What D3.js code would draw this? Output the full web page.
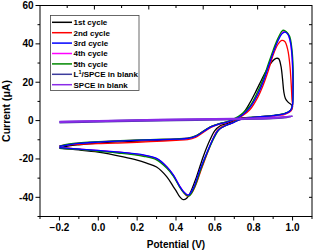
<!DOCTYPE html>
<html><head><meta charset="utf-8">
<script src="https://cdn.jsdelivr.net/npm/d3@7"></script>
<style>
body{margin:0;background:#fff}
svg{display:block}
text{font-family:"Liberation Sans",Arial,sans-serif;font-weight:bold;fill:#000}
</style>
</head><body><svg id="c" width="315" height="251"></svg>
<script>
// ---- data (Potential V, Current µA), forward scan then reverse scan ----
const seriesNames = ["1st cycle","2nd cycle","3rd cycle","4th cycle","5th cycle","L1/SPCE in blank","SPCE in blank"];
const seriesColors = ["#000000","#ff0000","#0000ff","#ff00ff","#008a00","#3c3c9c","#8a2be8"];
const xTicks = [-0.2,0.0,0.2,0.4,0.6,0.8,1.0];
const yTicks = [-40,-20,0,20,40,60];

const cycle1 = [[-0.2,-14.2],[-0.15,-13.2],[-0.1,-12.6],[0.0,-11.7],[0.1,-11.1],[0.2,-10.7],[0.3,-10.3],[0.4,-9.9],[0.46,-9.4],[0.5,-8.2],[0.54,-5.6],[0.58,-3.1],[0.62,-1.7],[0.66,-0.8],[0.7,0.4],[0.746,3.9],[0.78,9.2],[0.815,16],[0.84,21.2],[0.867,26.5],[0.895,30.8],[0.915,32.4],[0.928,32.3],[0.94,28.5],[0.948,22],[0.955,15],[0.963,11.5],[0.978,9.5],[0.993,8.3],[1.0,7.2],
  [0.99,5.2],[0.96,3.6],[0.9,2.6],[0.8,1.8],[0.73,1.2],[0.7,0.0],[0.678,-1.0],[0.65,-1.9],[0.626,-2.8],[0.6,-5.2],[0.575,-10],[0.54,-18.8],[0.506,-29.2],[0.472,-37.9],[0.455,-40.5],[0.437,-41.2],[0.42,-39.8],[0.4,-36.5],[0.386,-34.4],[0.352,-29.2],[0.3,-24.2],[0.249,-22.2],[0.2,-20.6],[0.129,-18.9],[0.0,-16.4],[-0.1,-15.3],[-0.2,-14.5]];
const cycle2 = [[-0.2,-13.2],[-0.15,-12.7],[-0.1,-12.4],[0.0,-12.0],[0.1,-11.7],[0.2,-11.3],[0.3,-10.8],[0.4,-10.3],[0.46,-9.9],[0.5,-8.8],[0.54,-6.2],[0.58,-3.6],[0.62,-2.0],[0.66,-1.0],[0.7,0.3],[0.74,2.4],[0.781,5.8],[0.82,12],[0.849,18.6],[0.875,26],[0.901,34.5],[0.925,39.8],[0.944,41.8],[0.96,41.2],[0.975,37],[0.986,29],[0.993,19],[0.997,11],[1.0,7.5],
  [0.99,4.8],[0.96,3.3],[0.9,2.4],[0.8,1.6],[0.73,0.6],[0.7,-0.6],[0.685,-1.3],[0.66,-2.3],[0.635,-3.2],[0.612,-5.3],[0.59,-9.6],[0.565,-16],[0.53,-25.5],[0.5,-34],[0.48,-37.9],[0.458,-39.4],[0.44,-37.6],[0.415,-33.6],[0.386,-28.6],[0.352,-24.2],[0.3,-20],[0.232,-18.2],[0.1,-16.5],[0.0,-15.8],[-0.1,-14.9],[-0.2,-14.0]];
const cycle3 = [[-0.2,-13.5],[-0.15,-12.6],[-0.1,-11.9],[0.0,-11.2],[0.1,-10.7],[0.2,-10.3],[0.3,-10.0],[0.4,-9.7],[0.46,-9.3],[0.5,-8.2],[0.54,-5.8],[0.58,-3.3],[0.62,-1.8],[0.66,-0.9],[0.7,0.6],[0.74,2.8],[0.78,6.8],[0.82,13.5],[0.85,20.5],[0.88,29.5],[0.9,35.3],[0.925,41.6],[0.945,45.2],[0.961,46.1],[0.977,44.8],[0.99,40.5],[0.998,33],[1.002,22],[1.002,13],[1.0,8.5],
  [0.99,5.4],[0.96,3.6],[0.9,2.6],[0.8,1.7],[0.73,0.5],[0.7,-0.8],[0.678,-1.7],[0.652,-2.8],[0.618,-4.9],[0.592,-9.2],[0.558,-17],[0.523,-25.7],[0.489,-35.3],[0.463,-38.9],[0.44,-37.2],[0.42,-34.4],[0.386,-28.3],[0.352,-24],[0.3,-19.7],[0.232,-17.9],[0.077,-16.2],[-0.094,-14.9],[-0.2,-14.1]];
const cycle4 = [[-0.2,-13.3],[-0.15,-12.4],[-0.1,-11.8],[0.0,-11.1],[0.1,-10.6],[0.2,-10.2],[0.3,-9.9],[0.4,-9.6],[0.46,-9.2],[0.5,-8.1],[0.54,-5.7],[0.58,-3.2],[0.62,-1.8],[0.66,-0.8],[0.7,0.7],[0.74,3.0],[0.78,7.0],[0.82,13.8],[0.85,20.8],[0.88,29.8],[0.9,35.6],[0.925,42],[0.945,45.8],[0.958,46.5],[0.975,45.2],[0.988,41],[0.997,33],[1.001,21],[1.001,12],[1.0,8.3],
  [0.99,5.3],[0.96,3.5],[0.9,2.5],[0.8,1.7],[0.73,0.5],[0.7,-0.8],[0.678,-1.7],[0.652,-2.8],[0.62,-4.8],[0.594,-9.0],[0.56,-16.8],[0.525,-25.5],[0.49,-35.2],[0.464,-38.8],[0.44,-37.1],[0.42,-34.3],[0.386,-28.3],[0.352,-24],[0.3,-19.8],[0.232,-18],[0.077,-16.2],[-0.094,-14.9],[-0.2,-14.1]];
const cycle5 = [[-0.2,-13.3],[-0.15,-12.2],[-0.1,-11.6],[0.0,-11.0],[0.077,-10.6],[0.2,-10.1],[0.3,-9.8],[0.4,-9.5],[0.46,-9.1],[0.5,-8.0],[0.54,-5.6],[0.58,-3.1],[0.62,-1.7],[0.66,-0.6],[0.7,1.0],[0.74,3.6],[0.781,7.6],[0.82,15],[0.849,21.8],[0.875,29.5],[0.901,37],[0.925,43],[0.944,46.5],[0.953,47.1],[0.968,46.3],[0.985,44],[0.997,37],[1.003,27],[1.003,16],[1.0,8.5],
  [0.99,5.5],[0.96,3.8],[0.9,2.7],[0.8,1.8],[0.73,0.6],[0.7,-0.7],[0.68,-1.6],[0.655,-2.7],[0.625,-4.4],[0.6,-8.2],[0.565,-15.8],[0.53,-24.8],[0.495,-34.8],[0.466,-39.4],[0.44,-37.6],[0.42,-34.9],[0.386,-29],[0.352,-24.8],[0.3,-20.5],[0.232,-18.6],[0.1,-16.9],[0.0,-16.0],[-0.1,-15.0],[-0.2,-14.3]];
const blankL1 = [[-0.2,-0.6],[0.0,-0.1],[0.3,0.5],[0.6,0.9],[0.8,1.2],[0.9,1.5],[0.96,1.9],[1.0,2.4],[0.97,1.6],[0.9,1.0],[0.7,0.5],[0.4,0.0],[0.1,-0.5],[-0.2,-1.2]];
const blankSPCE = [[-0.2,-0.4],[0.0,0.0],[0.3,0.6],[0.6,1.0],[0.8,1.3],[0.9,1.6],[0.96,2.0],[1.0,2.3],[0.97,1.8],[0.9,1.2],[0.7,0.7],[0.4,0.2],[0.1,-0.3],[-0.2,-0.9]];

const allSeries = [cycle1,cycle2,cycle3,cycle4,cycle5,blankL1,blankSPCE];
const drawOrder = [0,1,3,4,2,5,6];

// ---- layout ----
const svg = d3.select("#c");
const L = 40, R = 312, T = 5.5, B = 216.5;
const x = d3.scaleLinear().domain([-0.3,1.1]).range([L,R]);
const y = d3.scaleLinear().domain([-50,60]).range([B,T]);

const line = d3.line().x(d=>x(d[0])).y(d=>y(d[1])).curve(d3.curveCatmullRom.alpha(0.5));

const plot = svg.append("g");
drawOrder.forEach(i=>{
  plot.append("path").datum(allSeries[i])
    .attr("d",line).attr("fill","none")
    .attr("stroke",seriesColors[i]).attr("stroke-width",1.3)
    .attr("stroke-linejoin","round");
});

// frame
svg.append("rect").attr("x",L).attr("y",T).attr("width",R-L).attr("height",B-T)
  .attr("fill","none").attr("stroke","#000").attr("stroke-width",1);

const tk = svg.append("g").attr("stroke","#000").attr("stroke-width",1);
// left ticks (outward)
d3.range(-50,61,10).forEach(v=>{
  const major = v%20===0;
  tk.append("line").attr("x1",L).attr("x2",L-(major?4.5:2.5)).attr("y1",y(v)).attr("y2",y(v));
  // right ticks (inward)
  if(v>-50 && v<60) tk.append("line").attr("x1",R).attr("x2",R-3).attr("y1",y(v)).attr("y2",y(v));
});
// bottom ticks (outward)
d3.range(-3,12,1).forEach(k=>{
  const v = k/10, major = (k%2===0);
  tk.append("line").attr("x1",x(v)).attr("x2",x(v)).attr("y1",B).attr("y2",B+(major?4:2.5));
});
// top ticks (inward)
d3.range(1,10).forEach(i=>{
  const px = L + (R-L)*i/10;
  tk.append("line").attr("x1",px).attr("x2",px).attr("y1",T).attr("y2",T+(i%2===0?4:2.5));
});

// tick labels
svg.append("g").selectAll("text").data(yTicks).join("text")
  .attr("x",33.5).attr("y",d=>y(d)).attr("dy","0.35em").attr("text-anchor","end")
  .attr("font-size",10).text(d=>d);
svg.append("g").selectAll("text").data(xTicks).join("text")
  .attr("x",d=>x(d)).attr("y",230.5).attr("text-anchor","middle")
  .attr("font-size",10).text(d=>d3.format(".1f")(d));

// axis titles
svg.append("text").attr("x",(L+R)/2).attr("y",248).attr("text-anchor","middle")
  .attr("font-size",10).text("Potential (V)");
svg.append("text").attr("transform",`translate(9.5,${(T+B)/2}) rotate(-90)`)
  .attr("text-anchor","middle").attr("font-size",10.5).text("Current (μA)");

// legend
const lg = svg.append("g");
lg.append("rect").attr("x",50.5).attr("y",15.5).attr("width",88.5).attr("height",75)
  .attr("fill","#fff").attr("stroke","#444").attr("stroke-width",0.8);
seriesNames.forEach((n,i)=>{
  const ry = 22.3 + i*10.4;
  lg.append("line").attr("x1",52).attr("x2",72).attr("y1",ry).attr("y2",ry)
    .attr("stroke",seriesColors[i]).attr("stroke-width",1.5);
  const t = lg.append("text").attr("x",73.5).attr("y",ry+2.9).attr("font-size",8);
  if(n.startsWith("L1")){
    t.append("tspan").text("L");
    t.append("tspan").attr("font-size",5.5).attr("dy",-3.5).text("1");
    t.append("tspan").attr("dy",3.5).text(n.slice(2));
  } else t.text(n);
});
</script>
</body></html>
